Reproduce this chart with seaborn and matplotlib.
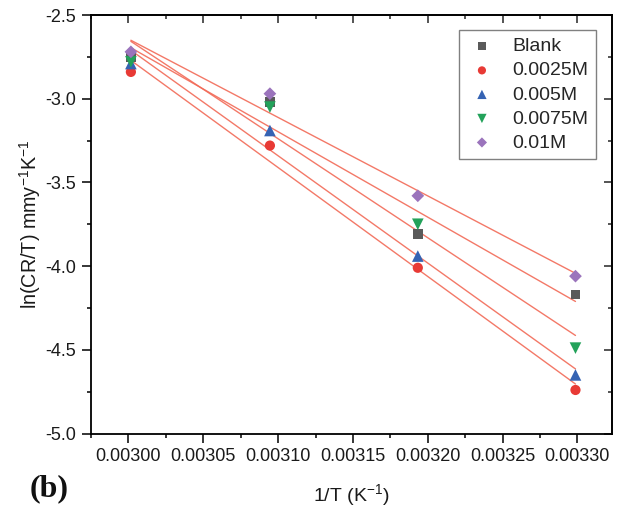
import numpy as np
import pandas as pd
import matplotlib
matplotlib.use("Agg")
import matplotlib.pyplot as plt
from matplotlib.ticker import AutoMinorLocator, FormatStrFormatter
import seaborn as sns

# Temperatures (K) and inhibitor concentrations
temperatures = [333.15, 323.15, 313.15, 303.15]
series_names = ["Blank", "0.0025M", "0.005M", "0.0075M", "0.01M"]

# ln(CR/T) values for each series at the temperatures above
blank = [-2.75, -3.02, -3.81, -4.17]
c_0025 = [-2.84, -3.28, -4.01, -4.74]
c_005 = [-2.79, -3.19, -3.94, -4.65]
c_0075 = [-2.78, -3.05, -3.75, -4.49]
c_001 = [-2.72, -2.97, -3.58, -4.06]

x_ticks = [0.00300, 0.00305, 0.00310, 0.00315, 0.00320, 0.00325, 0.00330]
y_ticks = [-5.0, -4.5, -4.0, -3.5, -3.0, -2.5]

inv_t = [1.0 / t for t in temperatures]
values = [blank, c_0025, c_005, c_0075, c_001]
df = pd.DataFrame({
    "x": np.tile(inv_t, len(series_names)),
    "y": np.concatenate(values),
    "series": np.repeat(series_names, len(inv_t)),
})

sns.set_theme(style="white")
plt.rcParams["font.family"] = ["Liberation Sans", "DejaVu Sans"]
plt.rcParams["mathtext.fontset"] = "custom"
plt.rcParams["mathtext.rm"] = "Liberation Sans"
plt.rcParams["mathtext.it"] = "Liberation Sans:italic"
plt.rcParams["mathtext.default"] = "regular"

palette = {
    "Blank": "#5a5a5a",
    "0.0025M": "#e83a35",
    "0.005M": "#3563b3",
    "0.0075M": "#23a25a",
    "0.01M": "#9b74bc",
}
markers = {"Blank": "s", "0.0025M": "o", "0.005M": "^", "0.0075M": "v", "0.01M": "D"}
sizes = {"Blank": 50, "0.0025M": 54, "0.005M": 70, "0.0075M": 70, "0.01M": 42}

fig = plt.figure(figsize=(6.22, 5.08), dpi=100)
ax = fig.add_axes([91 / 622, 1 - 433.5 / 508, (612 - 91) / 622, (433.5 - 15) / 508])

# linear fits (Arrhenius-type) for every series
for name in series_names:
    sub = df[df["series"] == name]
    sns.regplot(data=sub, x="x", y="y", ax=ax, scatter=False, ci=None,
                line_kws={"color": "#f26a57", "lw": 1.0, "alpha": 0.9, "zorder": 2})

for name in series_names:
    sub = df[df["series"] == name]
    sns.scatterplot(data=sub, x="x", y="y", ax=ax, marker=markers[name],
                    color=palette[name], s=sizes[name], edgecolor="none",
                    label=name, zorder=3)

ax.set_xlim(0.0029750, 0.0033231)
ax.set_ylim(-5.0, -2.5)
ax.set_xticks(x_ticks)
ax.set_yticks(y_ticks)
ax.xaxis.set_major_formatter(FormatStrFormatter("%.5f"))
ax.yaxis.set_major_formatter(FormatStrFormatter("%.1f"))
ax.xaxis.set_minor_locator(AutoMinorLocator(2))
ax.yaxis.set_minor_locator(AutoMinorLocator(2))

ax.tick_params(axis="both", which="major", direction="out", length=6.5, width=1.1,
               color="black", labelsize=13, labelcolor="#1a1a1a", pad=4)
ax.tick_params(axis="both", which="minor", direction="out", length=3, width=1.1,
               color="black")
ax.tick_params(top=False, right=False, bottom=True, left=True, which="both")

for sp in ax.spines.values():
    sp.set_color("black")
    sp.set_linewidth(1.3)

# mirrored ticks pointing inward on top and right
top = ax.secondary_xaxis("top")
top.set_xticks(x_ticks)
top.xaxis.set_minor_locator(AutoMinorLocator(2))
top.tick_params(which="major", direction="in", length=6, width=1.1, labeltop=False)
top.tick_params(which="minor", direction="in", length=3, width=1.1)
top.spines["top"].set_linewidth(1.3)
right = ax.secondary_yaxis("right")
right.set_yticks(y_ticks)
right.yaxis.set_minor_locator(AutoMinorLocator(2))
right.tick_params(which="major", direction="in", length=6, width=1.1, labelright=False)
right.tick_params(which="minor", direction="in", length=3, width=1.1)
right.spines["right"].set_linewidth(1.3)

ax.set_xlabel(r"1/T (K$^{-1}$)", fontsize=14, color="#1a1a1a", labelpad=12)
ax.set_ylabel(r"ln(CR/T) mmy$^{-1}$K$^{-1}$", fontsize=14.2, color="#1a1a1a", labelpad=2)

leg = ax.legend(loc="upper right", bbox_to_anchor=(0.969, 0.964), borderaxespad=0,
                fontsize=14, frameon=True, fancybox=False, edgecolor="#606060",
                handletextpad=0.75, labelspacing=0.33, borderpad=0.4,
                handlelength=1.6, markerscale=0.8)
leg.get_frame().set_linewidth(1.0)

fig.text(30 / 622, 1 - 489 / 508, "(b)", fontsize=23, fontweight="bold",
         family="Liberation Serif", va="center", ha="left", color="#111111")

fig.savefig("out.png", dpi=100)
